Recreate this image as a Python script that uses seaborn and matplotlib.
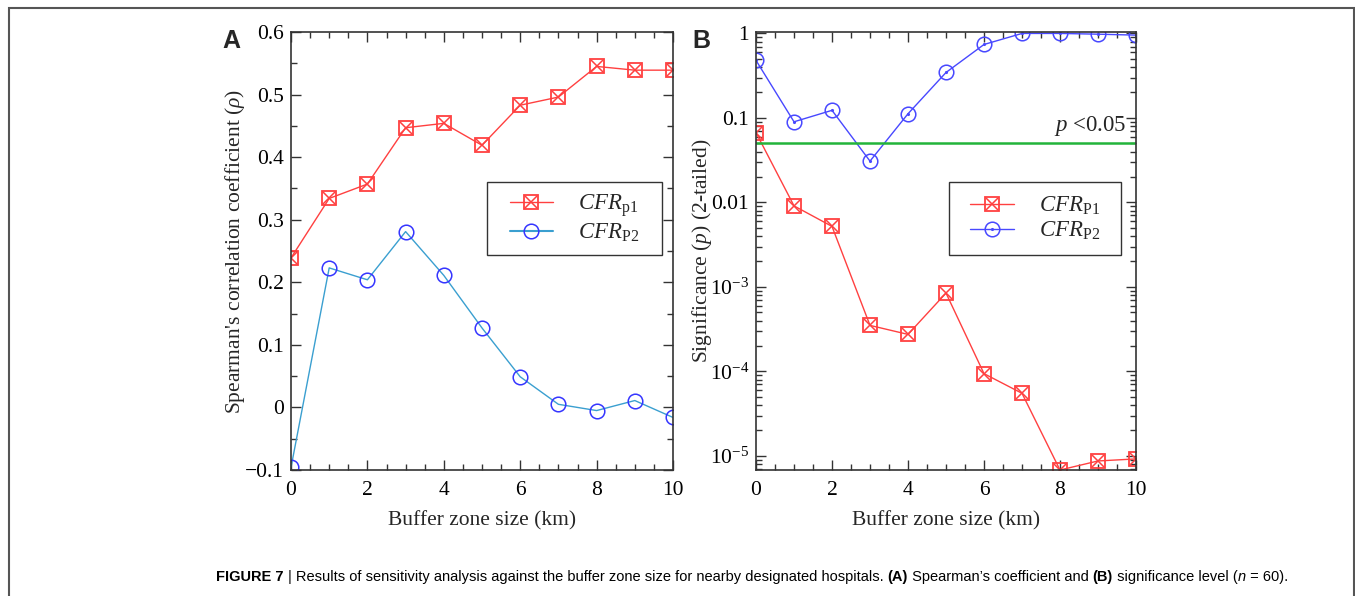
import numpy as np
import pandas as pd
import matplotlib
matplotlib.use("Agg")
import matplotlib.pyplot as plt
import seaborn as sns
from matplotlib import font_manager as fm
from matplotlib.ticker import MultipleLocator, FixedLocator, FixedFormatter, LogLocator, NullFormatter
from matplotlib.legend_handler import HandlerTuple
from matplotlib.offsetbox import TextArea, HPacker, AnchoredOffsetbox
from matplotlib.patches import Rectangle

# ---------------- data ----------------
buffer_km = [0, 1, 2, 3, 4, 5, 6, 7, 8, 9, 10]
rho_p1 = [0.239, 0.334, 0.357, 0.447, 0.454, 0.419, 0.483, 0.496, 0.545, 0.539, 0.539]
rho_p2 = [-0.096, 0.223, 0.204, 0.281, 0.211, 0.127, 0.049, 0.005, -0.005, 0.011, -0.016]
p_p1 = [0.067, 0.0091, 0.0052, 3.5e-4, 2.74e-4, 8.45e-4, 9.4e-5, 5.5e-5, 6.8e-6, 8.7e-6, 9.2e-6]
p_p2 = [0.48, 0.090, 0.123, 0.0308, 0.112, 0.345, 0.74, 1.0, 1.0, 0.98, 0.955]
p_threshold = 0.05
labels_a = [r"$\mathit{CFR}_{\mathrm{p1}}$", r"$\mathit{CFR}_{\mathrm{P2}}$"]
labels_b = [r"$\mathit{CFR}_{\mathrm{P1}}$", r"$\mathit{CFR}_{\mathrm{P2}}$"]
rho_ticks = [-0.1, 0, 0.1, 0.2, 0.3, 0.4, 0.5, 0.6]
rho_ticklabels = ["\u22120.1", "0", "0.1", "0.2", "0.3", "0.4", "0.5", "0.6"]
log_ticks = [1e-5, 1e-4, 1e-3, 0.01, 0.1, 1]
log_ticklabels = [r"$10^{-5}$", r"$10^{-4}$", r"$10^{-3}$", "0.01", "0.1", "1"]

df_a = pd.DataFrame({"x": buffer_km, "p1": rho_p1, "p2": rho_p2})
df_b = pd.DataFrame({"x": buffer_km, "p1": p_p1, "p2": p_p2})

# ---------------- style ----------------
sns.set_theme(style="ticks")
plt.rcParams["font.family"] = ["Liberation Serif", "DejaVu Serif"]
plt.rcParams["mathtext.fontset"] = "custom"
plt.rcParams["mathtext.rm"] = "Liberation Serif"
plt.rcParams["mathtext.it"] = "Liberation Serif:italic"
plt.rcParams["mathtext.bf"] = "Liberation Serif:bold"

RED = "#ff4040"
BLUE_LINE_A = "#3a9fd0"
BLUE_MK = "#3535ff"
BLUE_B = "#4848ff"
GREEN = "#22b43a"
FS = 15.5
LEG_FS = 16.5

W, H = 1355, 596
fig = plt.figure(figsize=(W / 100, H / 100), dpi=100)
axA = fig.add_axes([291/W, 1-470/H, 382/W, 438/H])
axB = fig.add_axes([756/W, 1-470/H, 380/W, 438/H])


def style_axes(ax):
    for s in ax.spines.values():
        s.set_color("#333333")
        s.set_linewidth(1.2)
    ax.tick_params(which="both", direction="in", top=True, right=True,
                   colors="#333333", labelcolor="black", labelsize=FS)
    ax.tick_params(which="major", length=7, width=1.0)
    ax.tick_params(which="minor", length=4, width=1.0)
    ax.tick_params(axis="x", which="major", pad=8)
    ax.tick_params(axis="y", which="major", pad=5)


def red_series(ax, df, col):
    sns.lineplot(data=df, x="x", y=col, ax=ax, color=RED, lw=1.0,
                 marker="s", markersize=10.5, markerfacecolor="none",
                 markeredgecolor=RED, markeredgewidth=1.3)
    ax.plot(df["x"], df[col], ls="none", marker="x", markersize=8.5,
            markeredgecolor=RED, markeredgewidth=1.1)


def add_legend(ax, handles, labels, box_px, ax_px):
    l, t, r, b = box_px
    al, at, ar, ab = ax_px
    aw, ah = ar - al, ab - at
    x0, x1 = (l - al) / aw, (r - al) / aw
    y0, y1 = 1 - (b - at) / ah, 1 - (t - at) / ah
    ax.add_patch(Rectangle((x0, y0), x1 - x0, y1 - y0, transform=ax.transAxes,
                           fill=True, facecolor="white", edgecolor="#333333",
                           lw=1.0, zorder=5))
    leg = ax.legend(handles, labels, handler_map={tuple: HandlerTuple(ndivide=1)},
                    loc="center", bbox_to_anchor=((x0 + x1) / 2, (y0 + y1) / 2),
                    frameon=False, fontsize=LEG_FS, handlelength=1.9,
                    handletextpad=1.1, labelspacing=0.12, borderpad=0,
                    borderaxespad=0)
    leg.set_zorder(6)
    return leg


# ---------------- panel A ----------------
red_series(axA, df_a, "p1")
sns.lineplot(data=df_a, x="x", y="p2", ax=axA, color=BLUE_LINE_A, lw=1.0,
             marker="o", markersize=10.5, markerfacecolor="none",
             markeredgecolor=BLUE_MK, markeredgewidth=1.1)
axA.set_xlim(0, 10)
axA.set_ylim(-0.1, 0.6)
axA.xaxis.set_major_locator(MultipleLocator(2))
axA.xaxis.set_minor_locator(MultipleLocator(0.5))
axA.yaxis.set_minor_locator(MultipleLocator(0.05))
axA.set_yticks(rho_ticks)
axA.set_yticklabels(rho_ticklabels)
axA.set_xlabel("Buffer zone size (km)", fontsize=FS, labelpad=8)
axA.set_ylabel(r"Spearman's correlation coefficient ($\rho$)", fontsize=FS, labelpad=-1)
style_axes(axA)

hA1 = (plt.Line2D([], [], color=RED, lw=1.0, marker="s", markersize=10.5,
                  markerfacecolor="none", markeredgecolor=RED, markeredgewidth=1.3),
       plt.Line2D([], [], ls="none", marker="x", markersize=8.5,
                  markeredgecolor=RED, markeredgewidth=1.1))
hA2 = plt.Line2D([], [], color=BLUE_LINE_A, lw=1.5, marker="o", markersize=10.5,
                 markerfacecolor="none", markeredgecolor=BLUE_MK, markeredgewidth=1.1)
add_legend(axA, [hA1, hA2], labels_a, (487, 182, 662, 255), (291, 32, 673, 470))

# ---------------- panel B ----------------
red_series(axB, df_b, "p1")
sns.lineplot(data=df_b, x="x", y="p2", ax=axB, color=BLUE_B, lw=1.0,
             marker="o", markersize=10.5, markerfacecolor="none",
             markeredgecolor=BLUE_B, markeredgewidth=1.1)
axB.plot(df_b["x"], df_b["p2"], ls="none", marker=".", markersize=2.5,
         color=BLUE_B)
axB.axhline(p_threshold, color=GREEN, lw=1.8)
axB.set_yscale("log")
axB.set_xlim(0, 10)
axB.set_ylim(6.8e-6, 1.04)
axB.xaxis.set_major_locator(MultipleLocator(2))
axB.xaxis.set_minor_locator(MultipleLocator(0.5))
axB.yaxis.set_major_locator(FixedLocator(log_ticks))
axB.yaxis.set_major_formatter(FixedFormatter(log_ticklabels))
axB.yaxis.set_minor_locator(LogLocator(base=10, subs=np.arange(2, 10), numticks=20))
axB.yaxis.set_minor_formatter(NullFormatter())
axB.set_xlabel("Buffer zone size (km)", fontsize=FS, labelpad=8)
axB.set_ylabel(r"Significance ($p$) (2-tailed)", fontsize=FS, labelpad=-3)
style_axes(axB)
axB.text(0.975, p_threshold * 1.15, r"$p$ <0.05", transform=axB.get_yaxis_transform(),
         ha="right", va="bottom", fontsize=LEG_FS)

hB2 = (plt.Line2D([], [], color=BLUE_B, lw=1.0, marker="o", markersize=10.5,
                  markerfacecolor="none", markeredgecolor=BLUE_B, markeredgewidth=1.1),
       plt.Line2D([], [], ls="none", marker=".", markersize=2.5, color=BLUE_B))
add_legend(axB, [hA1, hB2], labels_b, (949, 182, 1121, 255), (756, 32, 1136, 470))

# panel letters
fig.text(222/W, 1-48/H, "A", fontsize=18, fontweight="bold",
         family=["Liberation Sans", "DejaVu Sans"])
fig.text(692/W, 1-48/H, "B", fontsize=18, fontweight="bold",
         family=["Liberation Sans", "DejaVu Sans"])

# caption
sans = ["Liberation Sans", "DejaVu Sans"]
try:
    fm.findfont(fm.FontProperties(family="Liberation Sans Narrow"), fallback_to_default=False)
    sans = ["Liberation Sans Narrow", "Liberation Sans", "DejaVu Sans"]
except Exception:
    pass


def build_caption(fs):
    def ta(s, **kw):
        props = dict(fontsize=fs, family=sans, color="black")
        props.update(kw)
        return TextArea(s, textprops=props)
    pieces = [
        ta("FIGURE 7", fontweight="bold"),
        ta(" | Results of sensitivity analysis against the buffer zone size for nearby designated hospitals. "),
        ta("(A)", fontweight="bold"),
        ta(" Spearman\u2019s coefficient and "),
        ta("(B)", fontweight="bold"),
        ta(" significance level ("),
        ta("n", style="italic"),
        ta(" = 60)."),
    ]
    box = HPacker(children=pieces, sep=0, pad=0, align="baseline")
    anc = AnchoredOffsetbox(loc="lower left", child=box, pad=0, frameon=False,
                            bbox_to_anchor=(216/W, 1-584/H),
                            bbox_transform=fig.transFigure, borderpad=0)
    fig.add_artist(anc)
    return anc


cap_fs = 11.0
anc = build_caption(cap_fs)
fig.canvas.draw()
width = anc.get_window_extent(fig.canvas.get_renderer()).width
anc.remove()
cap_fs = cap_fs * 1065.0 / width
build_caption(cap_fs)

# figure border
fig.add_artist(Rectangle((9/W, -0.02), (1354-9)/W, 1.02-8/H,
                         transform=fig.transFigure, fill=False,
                         edgecolor="#555555", lw=1.5))

fig.savefig("out.png", dpi=100)
